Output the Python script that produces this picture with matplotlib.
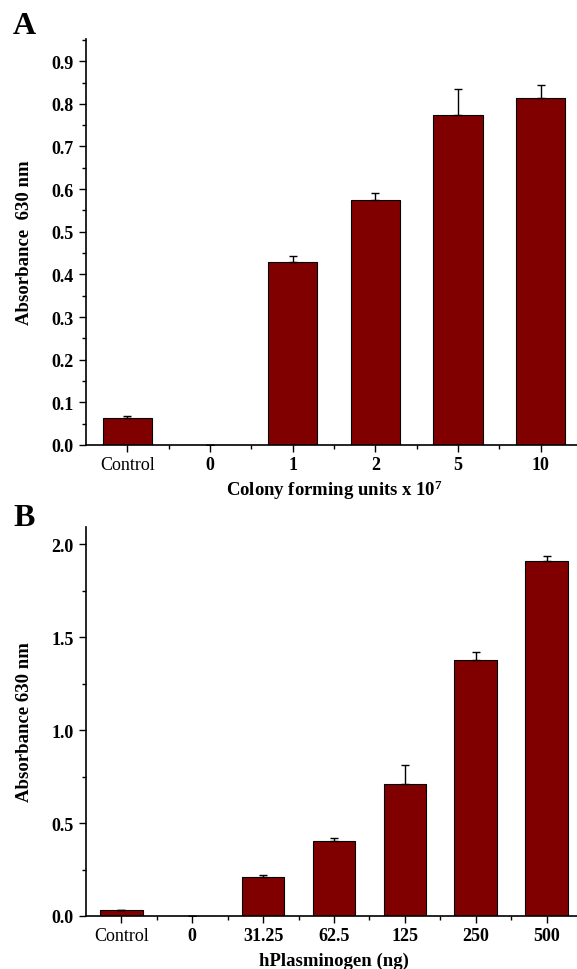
import matplotlib
matplotlib.use("Agg")
import matplotlib.pyplot as plt
from matplotlib.ticker import MultipleLocator, FixedLocator, FormatStrFormatter

plt.rcParams['font.family'] = ['Liberation Serif', 'DejaVu Serif']
plt.rcParams['mathtext.fontset'] = 'custom'
plt.rcParams['mathtext.rm'] = 'Liberation Serif:bold'
plt.rcParams['mathtext.bf'] = 'Liberation Serif:bold'
plt.rcParams['mathtext.it'] = 'Liberation Serif:bold'

# Panel A data
cats_a = ["Control", "0", "1", "2", "5", "10"]
vals_a = [0.063, 0.0, 0.429, 0.575, 0.774, 0.814]
errs_a = [0.005, 0.0, 0.015, 0.016, 0.061, 0.029]

# Panel B data
cats_b = ["Control", "0", "31.25", "62.5", "125", "250", "500"]
vals_b = [0.030, 0.0, 0.211, 0.401, 0.711, 1.378, 1.909]
errs_b = [0.004, 0.0, 0.011, 0.020, 0.101, 0.043, 0.028]

BAR = "#800000"
W, H = 577, 970
fig = plt.figure(figsize=(W / 100, H / 100), dpi=100)


def panel(left_px, top_px, bottom_px, cats, vals, errs, ylim, major, minor,
          ylabel, xlabel, xlabel_y_px, letter, letter_y_px):
    rect = [left_px / W, 1 - bottom_px / H, (582 - left_px) / W, (bottom_px - top_px) / H]
    ax = fig.add_axes(rect)
    x = list(range(len(cats)))
    ax.bar(x, vals, width=0.6, color=BAR, edgecolor="black", linewidth=0.8, zorder=2)
    ax.errorbar(x, vals, yerr=[[0] * len(errs), errs], fmt="none", ecolor="black",
                elinewidth=1.0, capsize=3.2, capthick=1.0, zorder=3)
    ax.set_xlim(-0.5, len(cats) - 0.5)
    ax.set_ylim(0, ylim)
    ax.yaxis.set_major_locator(MultipleLocator(major))
    ax.yaxis.set_minor_locator(MultipleLocator(minor))
    ax.yaxis.set_major_formatter(FormatStrFormatter("%.1f"))
    ax.set_xticks(x)
    ax.xaxis.set_minor_locator(FixedLocator([i + 0.5 for i in x[:-1]]))
    ax.set_xticklabels(cats)
    for i, lab in enumerate(ax.get_xticklabels()):
        lab.set_fontweight("normal" if i == 0 else "bold")
        lab.set_fontsize(13)
    for lab in ax.get_yticklabels():
        lab.set_fontweight("bold")
        lab.set_fontsize(13)
    ax.tick_params(which="major", direction="out", length=5, width=1.0)
    ax.tick_params(axis="x", which="major", pad=3)
    ax.tick_params(axis="y", which="major", pad=4)
    ax.tick_params(which="minor", direction="out", length=3, width=1.0)
    ax.spines["top"].set_visible(False)
    ax.spines["right"].set_visible(False)
    ax.spines["left"].set_linewidth(1.2)
    ax.spines["bottom"].set_linewidth(1.2)
    hpx = bottom_px - top_px
    wpx = 582 - left_px
    ax.set_ylabel(ylabel, fontsize=13.5, fontweight="bold", va="center")
    ax.yaxis.set_label_coords((25 - left_px) / wpx, 0.5)
    ax.set_xlabel(xlabel, fontsize=13.5, fontweight="bold", va="center")
    ax.xaxis.set_label_coords(0.5, (bottom_px - xlabel_y_px) / hpx)
    fig.text(13 / W, 1 - letter_y_px / H, letter, fontsize=23, fontweight="bold",
             ha="left", va="center")
    return ax


panel(86, 40, 446, cats_a, vals_a, errs_a, 0.952, 0.1, 0.05,
      "Absorbance  630 nm", r"Colony forming units x 10$^{7}$", 490, "A", 27)

panel(86, 528, 917, cats_b, vals_b, errs_b, 2.093, 0.5, 0.25,
      "Absorbance 630 nm", "hPlasminogen (ng)", 961, "B", 519)

fig.savefig("out.png", dpi=100)
